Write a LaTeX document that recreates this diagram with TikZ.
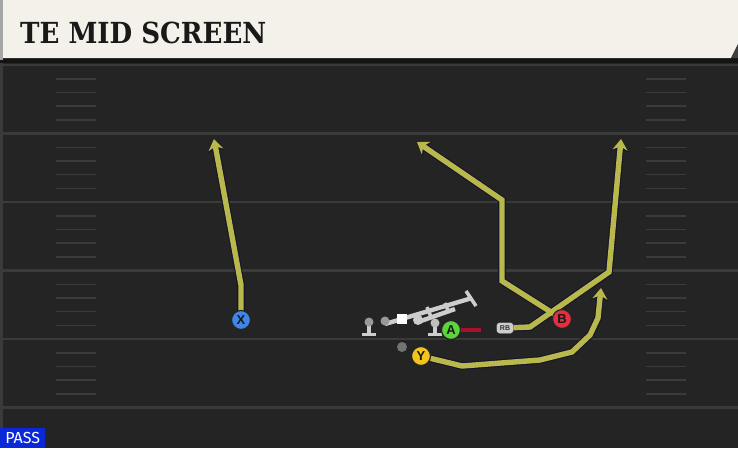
\documentclass[tikz,border=0pt]{standalone}
\usepackage{fontspec}
\setmainfont{Liberation Sans}
\newfontfamily\titlefont{DejaVu Serif Condensed}
\newfontfamily\passfont{Fira Sans}
\usetikzlibrary{arrows.meta}
\definecolor{fieldbg}{HTML}{242424}
\definecolor{yardline}{HTML}{3A3A3A}
\definecolor{hashc}{HTML}{3B3B3B}
\definecolor{headerbg}{HTML}{F4F1EA}
\definecolor{routec}{HTML}{B9B84C}
\definecolor{routeedge}{HTML}{15152A}
\definecolor{pblue}{HTML}{3F86E8}
\definecolor{pgreen}{HTML}{5ED43C}
\definecolor{pred}{HTML}{E4303C}
\definecolor{pyellow}{HTML}{F2C41C}
\definecolor{blockred}{HTML}{A8102C}
\definecolor{olgray}{HTML}{CDCDCD}
\definecolor{passblue}{HTML}{0A28D8}
\pgfdeclarelayer{back}
\pgfdeclarelayer{mid}
\pgfsetlayers{back,mid,main}
\tikzset{
  player/.style={circle, minimum size=19pt, inner sep=0pt, draw=black!85, line width=1.2pt, font=\bfseries\fontsize{13}{13}\selectfont, text=black!90},
  routeout/.style={draw=routeedge, line width=7.6pt, -{Stealth[length=13pt,width=18pt,inset=4pt]}},
  routein/.style={draw=routec, line width=5.4pt, -{Stealth[length=11pt,width=15pt,inset=3.5pt]}},
  yard/.style={draw=yardline, line width=2.2pt},
  hashm/.style={draw=hashc, line width=1.4pt},
  olline/.style={draw=olgray, line width=4.4pt},
}
\begin{document}
\begin{tikzpicture}[x=1pt,y=-1pt]
\useasboundingbox (0,0) rectangle (738,448);
\begin{pgfonlayer}{back}
  \fill[fieldbg] (0,0) rectangle (738,448);
  \fill[yardline] (0,60) rectangle (3,448);
  \foreach \k in {0,...,5} {
    \draw[yard] (3,65+68.5*\k) -- (738,65+68.5*\k);
  }
  \foreach \k in {0,...,4} {
    \foreach \o in {14,27.5,41,55} {
      \draw[hashm] (56,65+68.5*\k+\o) -- (96,65+68.5*\k+\o);
      \draw[hashm] (646,65+68.5*\k+\o) -- (686,65+68.5*\k+\o);
    }
  }
  \fill[black!92] (0,56) rectangle (738,63);
  \fill[headerbg] (3,0) -- (738,0) -- (738,44) -- (731,58) -- (3,58) -- cycle;
  \fill[black!75] (738,44) -- (738,58) -- (731,58) -- cycle;
  \fill[black!35] (0,0) rectangle (3,60);
\end{pgfonlayer}

\node[anchor=base west, inner sep=0pt, font=\titlefont\bfseries\fontsize{29}{29}\selectfont, text=black!90] (title) at (20,43) {TE MID SCREEN};

\node[player, fill=pblue] (X) at (241,320) {X};
\node[player, fill=pgreen] (A) at (451,330) {A};
\node[player, fill=pred] (B) at (562,319) {B};
\node[player, fill=pyellow] (Y) at (421,356) {Y};
\node[draw=black!80, fill=olgray, rounded corners=3pt, minimum width=17pt, minimum height=11pt, inner sep=0pt, font=\bfseries\fontsize{7}{7}\selectfont, text=black!80] (RB) at (505,328) {RB};

\coordinate (x1) at (241,285);
\coordinate (x2) at (214,139);
\coordinate (b1) at (502,281);
\coordinate (b2) at (502,200);
\coordinate (b3) at (417,142);
\coordinate (r1) at (530,327);
\coordinate (r2) at (609,272);
\coordinate (r3) at (621,139);
\coordinate (y1) at (462,366);
\coordinate (y2) at (540,360);
\coordinate (y3) at (572,352);
\coordinate (y4) at (590,335);
\coordinate (y5) at (598,318);
\coordinate (y6) at (601,288);
\coordinate (blk) at (481,330);

\begin{pgfonlayer}{mid}
  \draw[routeout] (X.center) -- (x1) -- (x2);
  \draw[routeout] (B.center) -- (b1) -- (b2) -- (b3);
  \draw[routeout] (RB.center) -- (r1) -- (r2) -- (r3);
  \draw[routeout] (Y.center) -- (y1) -- (y2) -- (y3) -- (y4) -- (y5) -- (y6);
  \draw[routein] (X.center) -- (x1) -- (x2);
  \draw[routein] (B.center) -- (b1) -- (b2) -- (b3);
  \draw[routein] (RB.center) -- (r1) -- (r2) -- (r3);
  \draw[routein] (Y.center) -- (y1) -- (y2) -- (y3) -- (y4) -- (y5) -- (y6);
  \draw[draw=blockred, line width=4.5pt] (A.center) -- (blk);
  % offensive line group
  \fill[black!55] (402,347) circle (5pt);
  \draw[olline, line width=3.6pt] (369,322) -- (369,334);
  \draw[olline, line width=3.6pt] (362,334.5) -- (376,334.5);
  \fill[black!40] (369,322) circle (4.5pt);
  \draw[olline] (385,324) -- (472,298);
  \draw[olline, line width=3.6pt] (466,291) -- (476,306);
  \draw[olline] (418,322) -- (455,309);
  \draw[olline, line width=3.6pt] (427,307) -- (431,317);
  \draw[olline, line width=3.6pt] (445,303) -- (449,313);
  \fill[black!40] (385,321) circle (4.5pt);
  \fill[white] (397,314) rectangle (407,324);
  \fill[black!20] (418,320) circle (5pt);
  \draw[olline, line width=3.6pt] (435,323) -- (435,334);
  \draw[olline, line width=3.6pt] (428,334.5) -- (442,334.5);
  \fill[black!25] (435,323) circle (4.5pt);
\end{pgfonlayer}

\node[fill=passblue, text=white, anchor=south west, minimum width=45pt, minimum height=20pt, inner sep=0pt, font=\passfont\fontsize{16}{16}\selectfont] (pass) at (0,448) {PASS};
\end{tikzpicture}
\end{document}
